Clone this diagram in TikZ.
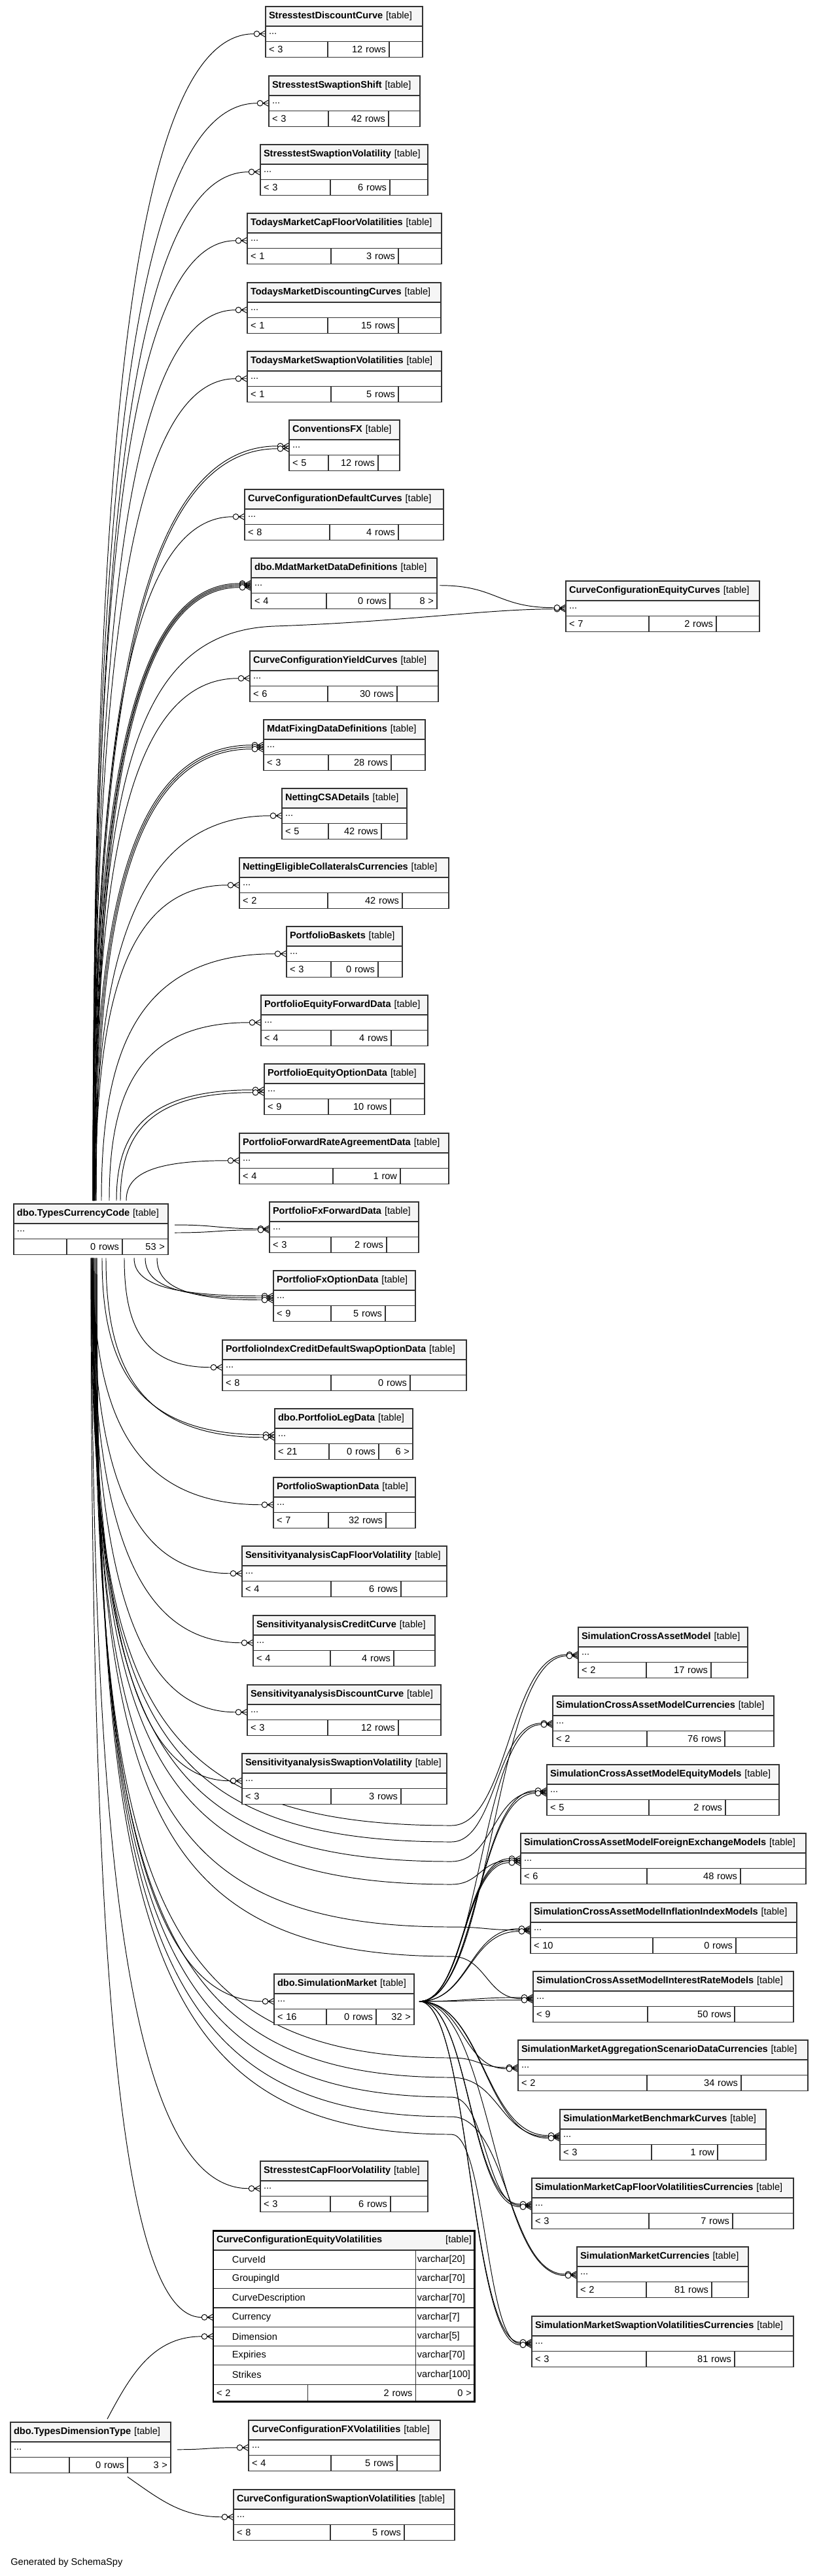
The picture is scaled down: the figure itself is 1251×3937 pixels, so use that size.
\documentclass[tikz,border=0pt]{standalone}
\usepackage{fontspec}
\setmainfont{Liberation Sans}
\usetikzlibrary{calc,backgrounds}
\tikzset{
  tbl/.style={draw=black!80,line width=0.65pt,inner xsep=0.1cm,inner ysep=0pt,
    outer sep=0pt,anchor=north west,font=\fontsize{8.3}{10}\selectfont},
  hdr/.style={tbl,fill=black!4,minimum height=0.6cm,align=left},
  dots/.style={tbl,fill=white,minimum height=0.47cm,align=left},
  foot/.style={tbl,fill=white,minimum height=0.48cm,align=#1},
  foot/.default=left,
  colbox/.style={tbl,fill=white,minimum height=0.586cm,align=left},
  rel/.style={draw=black,line width=0.55pt},
}
% crow's foot with open circle at the west side of a row
\newcommand{\crow}[2]{%
  \draw[rel] ([shift={(0,#2-5)}]#1.west) -- ([shift={(-9,#2)}]#1.west) -- ([shift={(0,#2+5)}]#1.west)
    ([shift={(-9,#2)}]#1.west) -- ([shift={(0,#2)}]#1.west);
  \draw[rel,fill=white] ([shift={(-13.5,#2)}]#1.west) circle (0.086cm);}
% edge leaving vertically, entering horizontally
\newcommand{\fk}[3]{%
  \draw[rel] let \p1=(#1), \p2=([shift={(-18,#3)}]#2.west) in
    (\p1) .. controls (\x1,{\y1+0.6*(\y2-\y1)}) and ({\x1+0.2*(\x2-\x1)},\y2) .. (\p2);
  \crow{#2}{#3}}
% edge with horizontal ends (S shape)
\newcommand{\sfk}[3]{%
  \draw[rel] let \p1=(#1), \p2=([shift={(-18,#3)}]#2.west) in
    (\p1) .. controls ({0.5*\x1+0.5*\x2},\y1) and ({0.5*\x1+0.5*\x2},\y2) .. (\p2);
  \crow{#2}{#3}}
% edge passing a waypoint between the middle tables
\newcommand{\viafk}[3]{%
  \draw[rel] let \p1=(#1), \p2=([shift={(-18,0)}]#2.west), \p3=(690,#3) in
    (\p1) .. controls (\x1,{\y1+0.75*(\y3-\y1)}) and ({\x1+0.12*(\x3-\x1)},\y3) .. (\p3)
    .. controls ({0.5*\x3+0.5*\x2},\y3) and ({0.5*\x3+0.5*\x2},\y2) .. (\p2);
  \crow{#2}{0}}

\begin{document}
\begin{tikzpicture}[x=0.02cm,y=-0.02cm]
\useasboundingbox (0,0) rectangle (1251,3937);

% tables: id / left / top / right / divider 1 / divider 2 / name / cells
\foreach \id/\xa/\ya/\xb/\da/\db/\nm/\lc/\mc/\rc in {
  sdc/406/10/646/501/595/StresstestDiscountCurve/< 3/12 rows/{},
  sss/411/116/642/502/594/StresstestSwaptionShift/< 3/42 rows/{},
  ssv/398/221/654/505/596/StresstestSwaptionVolatility/< 3/6 rows/{},
  tmcf/378/326/675/506/609/TodaysMarketCapFloorVolatilities/< 1/3 rows/{},
  tmdc/378/432/674/501/609/TodaysMarketDiscountingCurves/< 1/15 rows/{},
  tmsv/378/537/675/506/609/TodaysMarketSwaptionVolatilities/< 1/5 rows/{},
  cfx/442/642/611/502/578/ConventionsFX/< 5/12 rows/{},
  ccdc/374/748/678/504/609/CurveConfigurationDefaultCurves/< 8/4 rows/{},
  mdd/384/853/668/499/596/dbo.MdatMarketDataDefinitions/< 4/0 rows/8 >,
  ccec/865/888/1161/992/1095/CurveConfigurationEquityCurves/< 7/2 rows/{},
  ccyc/382/995/670/501/607/CurveConfigurationYieldCurves/< 6/30 rows/{},
  mfdd/403/1100/650/502/598/MdatFixingDataDefinitions/< 3/28 rows/{},
  ncsa/431/1205/622/502/583/NettingCSADetails/< 5/42 rows/{},
  necc/366/1311/686/501/615/NettingEligibleCollateralsCurrencies/< 2/42 rows/{},
  pb/438/1416/615/506/578/PortfolioBaskets/< 3/0 rows/{},
  pefd/399/1521/654/506/598/PortfolioEquityForwardData/< 4/4 rows/{},
  peod/404/1626/649/502/597/PortfolioEquityOptionData/< 9/10 rows/{},
  pfra/366/1732/686/509/612/PortfolioForwardRateAgreementData/< 4/1 row/{},
  tcc/21/1840/257/102/187/dbo.TypesCurrencyCode/{}/0 rows/53 >,
  pfxf/412/1837/640/506/591/PortfolioFxForwardData/< 3/2 rows/{},
  pfxo/418/1942/635/506/589/PortfolioFxOptionData/< 9/5 rows/{},
  picd/340/2048/713/506/627/PortfolioIndexCreditDefaultSwapOptionData/< 8/0 rows/{},
  pld/420/2153/631/503/579/dbo.PortfolioLegData/< 21/0 rows/6 >,
  psd/418/2258/635/502/590/PortfolioSwaptionData/< 7/32 rows/{},
  scfv/370/2363/683/506/613/SensitivityanalysisCapFloorVolatility/< 4/6 rows/{},
  scc/387/2469/665/505/602/SensitivityanalysisCreditCurve/< 4/4 rows/{},
  sdcu/378/2575/674/501/609/SensitivityanalysisDiscountCurve/< 3/12 rows/{},
  ssvo/370/2680/683/506/613/SensitivityanalysisSwaptionVolatility/< 3/3 rows/{},
  scam/884/2487/1143/988/1087/SimulationCrossAssetModel/< 2/17 rows/{},
  scamc/845/2592/1183/989/1108/SimulationCrossAssetModelCurrencies/< 2/76 rows/{},
  scame/836/2697/1191/992/1109/SimulationCrossAssetModelEquityModels/< 5/2 rows/{},
  scamf/796/2802/1232/989/1132/SimulationCrossAssetModelForeignExchangeModels/< 6/48 rows/{},
  scami/811/2908/1218/998/1125/SimulationCrossAssetModelInflationIndexModels/< 10/0 rows/{},
  scamr/815/3013/1213/990/1123/SimulationCrossAssetModelInterestRateModels/< 9/50 rows/{},
  sm/419/3017/633/499/575/dbo.SimulationMarket/< 16/0 rows/32 >,
  smasd/792/3118/1235/989/1133/SimulationMarketAggregationScenarioDataCurrencies/< 2/34 rows/{},
  smbc/856/3224/1171/996/1097/SimulationMarketBenchmarkCurves/< 3/1 row/{},
  smcf/813/3329/1213/992/1120/SimulationMarketCapFloorVolatilitiesCurrencies/< 3/7 rows/{},
  smc/882/3434/1144/988/1088/SimulationMarketCurrencies/< 2/81 rows/{},
  smsv/813/3540/1213/988/1123/SimulationMarketSwaptionVolatilitiesCurrencies/< 3/81 rows/{},
  sscf/398/3303/654/505/597/StresstestCapFloorVolatility/< 3/6 rows/{},
  tdt/16/3702/261/106/195/dbo.TypesDimensionType/{}/0 rows/3 >,
  ccfx/380/3699/673/506/607/CurveConfigurationFXVolatilities/< 4/5 rows/{},
  ccsv/357/3805/695/505/618/CurveConfigurationSwaptionVolatilities/< 8/5 rows/{}}
{
  \pgfmathsetmacro{\wA}{(\xb-\xa-10)*0.02}
  \pgfmathsetmacro{\wB}{(\da-\xa-10)*0.02}
  \pgfmathsetmacro{\wC}{(\db-\da-10)*0.02}
  \pgfmathsetmacro{\wD}{(\xb-\db-10)*0.02}
  \node[hdr,text width=\wA cm] (\id) at (\xa,\ya) {\mbox{\textbf{\nm} [table]}};
  \node[dots,text width=\wA cm] (\id-r) at (\id.south west) {...};
  \node[foot,text width=\wB cm] (\id-a) at (\id-r.south west) {\lc};
  \node[foot=right,text width=\wC cm] (\id-b) at (\id-a.north east) {\mc};
  \node[foot=right,text width=\wD cm] (\id-c) at (\id-b.north east) {\rc};
}

% the expanded table
\node[hdr,text width=7.8cm] (ccev) at (326,3409) {\textbf{CurveConfigurationEquityVolatilities}\hfill[table]};
\foreach \cn/\ct [count=\i] in {CurveId/varchar[20],GroupingId/varchar[70],
  CurveDescription/varchar[70],Currency/varchar[7],Dimension/varchar[5],
  Expiries/varchar[70],Strikes/varchar[100]}
{
  \node[colbox,text width=5.99cm] (ccev-\i) at (326,{3439+(\i-1)*29.3}) {\hspace*{0.48cm}\cn};
  \node[colbox,inner xsep=0.05cm,text width=1.71cm] (ccev-\i-t) at (ccev-\i.north east) {\ct};
}
\node[foot,minimum height=0.528cm,text width=2.686cm] (ccev-a) at (ccev-7.south west) {< 2};
\node[foot=right,minimum height=0.528cm,text width=3.102cm] (ccev-b) at (ccev-a.north east) {2 rows};
\node[foot=right,minimum height=0.528cm,text width=1.612cm] (ccev-c) at (ccev-b.north east) {0 >};
\draw[black,line width=1.7pt] (ccev.north west) rectangle (ccev-c.south east);

\node[anchor=west,inner sep=0pt,font=\fontsize{8.3}{10}\selectfont] (gen) at (16,3917) {Generated by SchemaSpy};

\begin{pgfonlayer}{background}
\fill[white] (0,0) rectangle (1251,3937);

% from the top of dbo.TypesCurrencyCode
\foreach \tg/\dx/\dy in {sdc-r/121/0, sss-r/121/0, ssv-r/122/0, tmcf-r/121/0,
  tmdc-r/122/0, tmsv-r/122/0, cfx-r/121/-2, cfx-r/123/2, ccdc-r/122/0,
  mdd-r/121/-3, mdd-r/123/-1, mdd-r/124/1, mdd-r/126/3, ccyc-r/123/0,
  mfdd-r/122/-3, mfdd-r/124/0, mfdd-r/126/3, ncsa-r/124/0, necc-r/125/0,
  pb-r/134/0, pefd-r/146/0, peod-r/157/-2, peod-r/163/2, pfra-r/172/0}
  {\fk{[shift={(\dx,-5)}]tcc.north west}{\tg}{\dy}}
\draw[rel] ([shift={(124,-5)}]tcc.north west) .. controls (146,1200) and (200,965) .. (420,957)
  .. controls (620,950) and (740,931) .. ([shift={(-18,1)}]ccec-r.west);
\crow{ccec-r}{1}
\sfk{[shift={(4,0)}]mdd-r.east}{ccec-r}{-1}

% from the right side
\sfk{[shift={(10,32)}]tcc.north east}{pfxf-r}{-1}
\sfk{[shift={(10,44)}]tcc.north east}{pfxf-r}{1}

% from the bottom
\foreach \tg/\dx/\dy in {pfxo-r/184/-3, pfxo-r/201/0, pfxo-r/219/3, picd-r/169/0,
  pld-r/135/-2, pld-r/141/2, psd-r/121/0, scfv-r/120/0, scc-r/119/0,
  sdcu-r/120/0, ssvo-r/121/0, sm-r/122/0, sscf-r/119/0, ccev-4/118/0}
  {\fk{[shift={(\dx,5)}]tcc-a.south west}{\tg}{\dy}}
\foreach \tg/\dx/\vy in {scam-r/118/2790, scamc-r/119/2815, scame-r/120/2845,
  scamf-r/121/2880, scami-r/122/2945, scamr-r/123/2990, smasd-r/124/3145,
  smbc-r/125/3175, smcf-r/126/3205, smc-r/127/3235, smsv-r/127/3262}
  {\viafk{[shift={(\dx,5)}]tcc-a.south west}{\tg}{\vy}}

% from dbo.SimulationMarket
\foreach \tg/\dy in {scam-r/2, scamc-r/2, scame-r/-2, scame-r/2, scamf-r/-3,
  scamf-r/0, scamf-r/3, scami-r/-2, scami-r/2, scamr-r/-2, scamr-r/2,
  smasd-r/2, smbc-r/-2, smbc-r/2, smcf-r/-2, smcf-r/2, smc-r/2,
  smsv-r/-2, smsv-r/2}
  {\sfk{[shift={(8,0)}]sm-r.east}{\tg}{\dy}}

% from dbo.TypesDimensionType
\draw[rel] ([shift={(148,-5)}]tdt.north west) to[out=62,in=180] ([shift={(-18,0)}]ccev-5.west);
\crow{ccev-5}{0}
\sfk{[shift={(10,0)}]tdt-r.east}{ccfx-r}{0}
\draw[rel] ([shift={(179,6)}]tdt-a.south west) to[out=-35,in=180] ([shift={(-18,0)}]ccsv-r.west);
\crow{ccsv-r}{0}
\end{pgfonlayer}
\end{tikzpicture}
\end{document}
